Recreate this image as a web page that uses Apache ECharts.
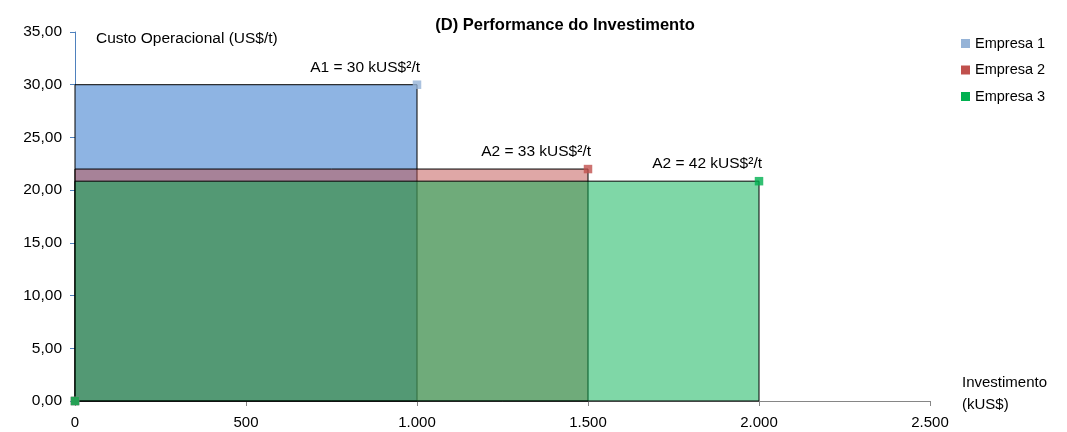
<!DOCTYPE html>
<html><head><meta charset="utf-8">
<script src="https://cdn.jsdelivr.net/npm/echarts@6/dist/echarts.min.js"></script>
<style>html,body{margin:0;padding:0;background:#fff}#c{width:1067px;height:432px}</style>
</head><body><div id="c"></div>
<script>
const companies = ['Empresa 1', 'Empresa 2', 'Empresa 3'];
const investment = [1000, 1500, 2000];
const cost = [30, 22, 20.85];
const areaLabels = ['A1 = 30 kUS$²/t', 'A2 = 33 kUS$²/t', 'A2 = 42 kUS$²/t'];
const fills = ['rgb(142,180,227)', 'rgba(192,80,77,0.5)', 'rgba(0,176,80,0.5)'];
const markerColors = ['#95B3D7', '#C0504D', '#00B050'];
const xTicks = [0, 500, 1000, 1500, 2000, 2500];
const yTicks = [0, 5, 10, 15, 20, 25, 30, 35];

const FONT = 'Liberation Sans';
const chart = echarts.init(document.getElementById('c'));
const series = [];
companies.forEach((name, i) => {
  series.push({
    name, type: 'custom', z: 2 + i,
    data: [[investment[i], cost[i]]],
    renderItem: (params, api) => {
      const p0 = api.coord([0, 0]);
      const p1 = api.coord([api.value(0), api.value(1)]);
      return {
        type: 'group',
        children: [
          { type: 'rect', shape: { x: p0[0], y: p1[1], width: p1[0] - p0[0], height: p0[1] - p1[1] },
            style: { fill: fills[i], stroke: '#000', lineWidth: 1 } },
          { type: 'text', x: p1[0] + 3, y: p1[1] - 9,
            style: { text: areaLabels[i], fill: '#000', font: '15.5px ' + FONT, align: 'right', verticalAlign: 'bottom' } }
        ]
      };
    }
  });
});
companies.forEach((name, i) => {
  series.push({
    name, type: 'scatter', z: 10 + i, symbol: 'rect', symbolSize: 8.5,
    itemStyle: { color: markerColors[i] },
    data: [[0, 0], [investment[i], cost[i]]]
  });
});

chart.setOption({
  animation: false,
  title: { text: '(D) Performance do Investimento', left: 560, top: 12, textAlign: 'center',
    textStyle: { fontFamily: FONT, fontSize: 16.5, fontWeight: 'bold', color: '#000' } },
  legend: {
    orient: 'vertical', left: 956, top: 31, itemGap: 11.5, itemWidth: 9, itemHeight: 9,
    icon: 'rect', textStyle: { fontFamily: FONT, fontSize: 14.5, color: '#000' },
    data: companies.map((n, i) => ({ name: n, itemStyle: { color: markerColors[i] } }))
  },
  grid: { left: 75, right: 137, top: 32, bottom: 31 },
  xAxis: {
    type: 'value', min: xTicks[0], max: xTicks[xTicks.length - 1], interval: 500,
    name: 'Investimento\n(kUS$)', nameLocation: 'end', nameGap: 0,
    nameTextStyle: { fontFamily: FONT, fontSize: 15, color: '#000', align: 'left', verticalAlign: 'bottom', padding: [0, 0, -15, 32], lineHeight: 22 },
    axisLine: { lineStyle: { color: '#868686' } },
    axisTick: { show: true, length: 5, lineStyle: { color: '#868686' } },
    splitLine: { show: false },
    axisLabel: { fontFamily: FONT, fontSize: 15, color: '#000', margin: 14,
      formatter: v => v.toString().replace(/\B(?=(\d{3})+(?!\d))/g, '.') }
  },
  yAxis: {
    type: 'value', min: yTicks[0], max: yTicks[yTicks.length - 1], interval: 5,
    name: 'Custo Operacional (US$/t)', nameLocation: 'end', nameGap: 0,
    nameTextStyle: { fontFamily: FONT, fontSize: 15.5, color: '#000', align: 'left', verticalAlign: 'top', padding: [-1, 0, 0, 21] },
    axisLine: { show: true, lineStyle: { color: '#4F81BD' } },
    axisTick: { show: true, length: 5, lineStyle: { color: '#4F81BD' } },
    splitLine: { show: false },
    axisLabel: { fontFamily: FONT, fontSize: 15.5, color: '#000', margin: 13,
      formatter: v => v.toFixed(2).replace('.', ',') }
  },
  series
});
</script></body></html>
